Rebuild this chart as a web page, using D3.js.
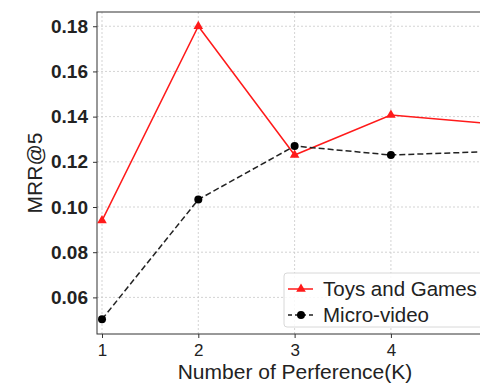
<!DOCTYPE html>
<html>
<head>
<meta charset="utf-8">
<script src="https://cdn.jsdelivr.net/npm/d3@7"></script>
<style>
  html, body { margin: 0; padding: 0; background: #fff; overflow: hidden; }
  svg { display: block; font-family: "Liberation Sans", Arial, sans-serif; }
</style>
</head>
<body>
<div id="chart"></div>
<script>
// values
var kValues = [1, 2, 3, 4, 5];
var toysGames = [0.094, 0.180, 0.123, 0.1407, 0.137];
var microVideo = [0.0503, 0.1033, 0.127, 0.123, 0.1245];
var yTicks = [0.06, 0.08, 0.10, 0.12, 0.14, 0.16, 0.18];
var xTicks = [1, 2, 3, 4];

var W = 480, H = 385;
var margin = {top: 12, left: 97, bottom: 51, right: -13};

var svg = d3.select("#chart").append("svg")
    .attr("width", W)
    .attr("height", H);

var x = d3.scaleLinear()
    .domain([0.948, 5.06])
    .range([margin.left, W - margin.right]);

var y = d3.scaleLinear()
    .domain([0.0438, 0.1863])
    .range([H - margin.bottom, margin.top]);

// grid
var grid = svg.append("g");
grid.selectAll(".gy").data(yTicks).enter().append("line")
    .attr("x1", x.range()[0]).attr("x2", x.range()[1])
    .attr("y1", d => y(d)).attr("y2", d => y(d))
    .attr("stroke", "#c8c8c8").attr("stroke-width", 0.8)
    .attr("stroke-dasharray", "2,2");
grid.selectAll(".gx").data(xTicks).enter().append("line")
    .attr("x1", d => x(d)).attr("x2", d => x(d))
    .attr("y1", y.range()[0]).attr("y2", y.range()[1])
    .attr("stroke", "#c8c8c8").attr("stroke-width", 0.8)
    .attr("stroke-dasharray", "2,2");

// axes
var xAxis = svg.append("g")
    .attr("transform", "translate(0," + (H - margin.bottom) + ")")
    .call(d3.axisBottom(x).tickValues(xTicks).tickSize(4).tickPadding(6).tickFormat(d3.format("d")));
xAxis.selectAll("text").attr("font-size", 17).attr("fill", "#222")
    .attr("font-family", "Liberation Sans, Arial, sans-serif");

var yAxis = svg.append("g")
    .attr("transform", "translate(" + margin.left + ",0)")
    .call(d3.axisLeft(y).tickValues(yTicks).tickSize(4).tickPadding(5).tickFormat(d3.format(".2f")));
yAxis.selectAll("text").attr("font-size", 19).attr("font-weight", "bold").attr("fill", "#222")
    .attr("font-family", "Liberation Sans, Arial, sans-serif");

[xAxis, yAxis].forEach(function(a) {
  a.select(".domain").remove();
  a.selectAll(".tick line").attr("stroke", "#333");
});

// frame
svg.append("rect")
    .attr("x", x.range()[0]).attr("y", y.range()[1])
    .attr("width", x.range()[1] - x.range()[0])
    .attr("height", y.range()[0] - y.range()[1])
    .attr("fill", "none").attr("stroke", "#333").attr("stroke-width", 1);

var line = d3.line().x(d => x(d[0])).y(d => y(d[1]));
var toysPts = kValues.map((k, i) => [k, toysGames[i]]);
var microPts = kValues.map((k, i) => [k, microVideo[i]]);

svg.append("path").datum(toysPts)
    .attr("d", line).attr("fill", "none")
    .attr("stroke", "#ff1a1a").attr("stroke-width", 1.5);

svg.append("path").datum(microPts)
    .attr("d", line).attr("fill", "none")
    .attr("stroke", "#222").attr("stroke-width", 1.5)
    .attr("stroke-dasharray", "6,3");

var tri = d3.symbol().type(d3.symbolTriangle).size(40);
svg.selectAll(".tri").data(toysPts).enter().append("path")
    .attr("d", tri)
    .attr("transform", d => "translate(" + x(d[0]) + "," + y(d[1]) + ")")
    .attr("fill", "#ff1a1a");

svg.selectAll(".dot").data(microPts).enter().append("circle")
    .attr("cx", d => x(d[0])).attr("cy", d => y(d[1]))
    .attr("r", 4).attr("fill", "#000");

// labels
svg.append("text")
    .attr("x", (x.range()[0] + x.range()[1]) / 2)
    .attr("y", 379)
    .attr("text-anchor", "middle")
    .attr("font-size", 21).attr("fill", "#222")
    .text("Number of Perference(K)");

svg.append("text")
    .attr("transform", "translate(42," + ((y.range()[0] + y.range()[1]) / 2) + ") rotate(-90)")
    .attr("text-anchor", "middle")
    .attr("font-size", 21).attr("fill", "#222")
    .text("MRR@5");

// legend
var lg = svg.append("g").attr("transform", "translate(284,273)");
lg.append("rect")
    .attr("width", 240).attr("height", 54).attr("rx", 3)
    .attr("fill", "#fff").attr("fill-opacity", 0.85)
    .attr("stroke", "#d8d8d8");

var entries = [
  {name: "Toys and Games", color: "#ff1a1a", dash: null, mark: "tri"},
  {name: "Micro-video", color: "#222", dash: "4,3", mark: "dot"}
];
entries.forEach(function(e, i) {
  var cy = 16 + i * 26;
  lg.append("line")
      .attr("x1", 4).attr("x2", 29).attr("y1", cy).attr("y2", cy)
      .attr("stroke", e.color).attr("stroke-width", 1.5)
      .attr("stroke-dasharray", e.dash);
  if (e.mark === "tri") {
    lg.append("path").attr("d", tri)
        .attr("transform", "translate(17," + cy + ")")
        .attr("fill", e.color);
  } else {
    lg.append("circle").attr("cx", 17).attr("cy", cy).attr("r", 4).attr("fill", "#000");
  }
  lg.append("text")
      .attr("x", 39).attr("y", cy + 7)
      .attr("font-size", 20.5).attr("fill", "#222")
      .text(e.name);
});
</script>
</body>
</html>
